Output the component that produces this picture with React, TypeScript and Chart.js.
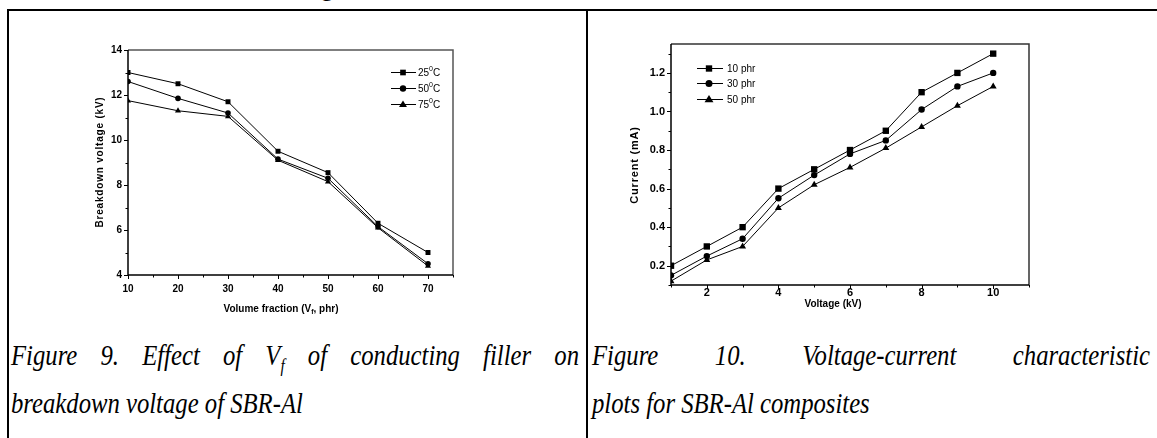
import React, { useEffect, useLayoutEffect, useRef, useState } from 'react';
import { Chart, registerables } from 'chart.js';

Chart.register(...registerables);

// ---------- Figure 9 data ----------
const volumeFraction = [10, 20, 30, 40, 50, 60, 70];
const breakdown25 = [13.0, 12.5, 11.7, 9.5, 8.55, 6.3, 5.0];
const breakdown50 = [12.6, 11.85, 11.2, 9.15, 8.3, 6.15, 4.5];
const breakdown75 = [11.75, 11.3, 11.05, 9.1, 8.15, 6.1, 4.4];
const tempNames = ['25', '50', '75'];
const fig9XTicks = [10, 20, 30, 40, 50, 60, 70];
const fig9XMinor = [15, 25, 35, 45, 55, 65, 75];
const fig9YTicks = [4, 6, 8, 10, 12, 14];
const fig9YMinor = [5, 7, 9, 11, 13];

// ---------- Figure 10 data ----------
const voltage = [1, 2, 3, 4, 5, 6, 7, 8, 9, 10];
const current10 = [0.2, 0.3, 0.4, 0.6, 0.7, 0.8, 0.9, 1.1, 1.2, 1.3];
const current30 = [0.15, 0.25, 0.34, 0.55, 0.67, 0.78, 0.85, 1.01, 1.13, 1.2];
const current50 = [0.12, 0.23, 0.3, 0.5, 0.62, 0.71, 0.81, 0.92, 1.03, 1.13];
const phrNames = ['10 phr', '30 phr', '50 phr'];
const fig10XTicks = [2, 4, 6, 8, 10];
const fig10XMinor = [1, 3, 5, 7, 9, 11];
const fig10YTicks = [0.2, 0.4, 0.6, 0.8, 1.0, 1.2];
const fig10YMinor = [0.1, 0.3, 0.5, 0.7, 0.9, 1.1, 1.3];

const markerStyles = ['rect', 'circle', 'triangle'];
const SANS = "'Liberation Sans', Arial, Helvetica, sans-serif";
const SERIF = "'Liberation Serif', 'Times New Roman', Times, serif";

type Spec = {
  width: number;
  height: number;
  padTop: number;
  padRight: number;
  yAxisWidth: number;
  xAxisHeight: number;
  xs: number[];
  series: number[][];
  names: string[];
  degree: boolean;
  radii: number[];
  xMin: number; xMax: number; yMin: number; yMax: number;
  xTicks: number[]; xMinor: number[]; yTicks: number[]; yMinor: number[];
  yDecimals: number;
  tickFont: number;
  xLabelPad: number;
  yLabelPad: number;
  majorLen: number;
  minorLen: number;
  frameColor: string;
  frameWidth: number;
  legend: { x0: number; x1: number; mx: number; tx: number; rows: number[]; font: number; marker: number[] };
  yTitle: { text: string; x: number; y: number; font: number; spacing: number };
  xTitle: { pre: string; sub: string; post: string; x: number; y: number; font: number };
};

function drawMarker(ctx: CanvasRenderingContext2D, style: string, x: number, y: number, r: number) {
  ctx.beginPath();
  if (style === 'rect') {
    const s = Math.SQRT1_2 * r;
    ctx.rect(x - s, y - s, 2 * s, 2 * s);
  } else if (style === 'circle') {
    ctx.arc(x, y, r, 0, Math.PI * 2);
  } else {
    const half = r * Math.sqrt(3) / 2;
    ctx.moveTo(x, y - r);
    ctx.lineTo(x + half * 1.15, y + r * 0.6);
    ctx.lineTo(x - half * 1.15, y + r * 0.6);
    ctx.closePath();
  }
  ctx.fill();
}

function makeDecor(s: Spec) {
  return {
    id: 'decor',
    afterDraw(chart: any) {
      const { ctx, chartArea: a, scales } = chart;
      const xs = scales.x;
      const ys = scales.y;
      ctx.save();
      // frame: top & right
      ctx.strokeStyle = s.frameColor;
      ctx.lineWidth = s.frameWidth;
      ctx.beginPath();
      ctx.moveTo(a.left, a.top);
      ctx.lineTo(a.right, a.top);
      ctx.lineTo(a.right, a.bottom);
      ctx.stroke();
      // axes
      ctx.strokeStyle = '#000';
      ctx.lineWidth = 1.5;
      ctx.beginPath();
      ctx.moveTo(a.left, a.top);
      ctx.lineTo(a.left, a.bottom);
      ctx.lineTo(a.right, a.bottom);
      ctx.stroke();
      // ticks
      ctx.lineWidth = 1;
      const tickX = (v: number, len: number) => {
        const p = Math.round(xs.getPixelForValue(v)) + 0.5;
        ctx.beginPath();
        ctx.moveTo(p, a.bottom);
        ctx.lineTo(p, a.bottom + len);
        ctx.stroke();
      };
      const tickY = (v: number, len: number) => {
        const p = Math.round(ys.getPixelForValue(v)) + 0.5;
        ctx.beginPath();
        ctx.moveTo(a.left, p);
        ctx.lineTo(a.left - len, p);
        ctx.stroke();
      };
      s.xTicks.forEach((v) => tickX(v, s.majorLen));
      s.xMinor.forEach((v) => tickX(v, s.minorLen));
      s.yTicks.forEach((v) => tickY(v, s.majorLen));
      s.yMinor.forEach((v) => tickY(v, s.minorLen));

      // legend
      const L = s.legend;
      ctx.fillStyle = '#000';
      s.names.forEach((name, i) => {
        const y = L.rows[i];
        ctx.strokeStyle = '#000';
        ctx.lineWidth = 1;
        ctx.beginPath();
        ctx.moveTo(L.x0, y + 0.5);
        ctx.lineTo(L.x1, y + 0.5);
        ctx.stroke();
        drawMarker(ctx, markerStyles[i], L.mx, y + 0.5, L.marker[i]);
        ctx.textBaseline = 'middle';
        ctx.textAlign = 'left';
        ctx.font = `${L.font}px ${SANS}`;
        if (s.degree) {
          let x = L.tx;
          ctx.fillText(name, x, y + 1);
          x += ctx.measureText(name).width;
          ctx.font = `${Math.round(L.font * 0.65)}px ${SANS}`;
          ctx.fillText('0', x, y - 2.5);
          x += ctx.measureText('0').width;
          ctx.font = `${L.font}px ${SANS}`;
          ctx.fillText('C', x, y + 1);
        } else {
          ctx.fillText(name, L.tx, y + 1);
        }
      });

      // y title
      const yt = s.yTitle;
      ctx.save();
      ctx.translate(yt.x, yt.y);
      ctx.rotate(-Math.PI / 2);
      ctx.font = `bold ${yt.font}px ${SANS}`;
      (ctx as any).letterSpacing = `${yt.spacing}px`;
      ctx.textAlign = 'center';
      ctx.textBaseline = 'middle';
      ctx.fillText(yt.text, 0, 0);
      ctx.restore();

      // x title (with optional subscript)
      const xt = s.xTitle;
      ctx.textBaseline = 'middle';
      ctx.textAlign = 'left';
      const big = `bold ${xt.font}px ${SANS}`;
      const small = `bold ${Math.round(xt.font * 0.65)}px ${SANS}`;
      ctx.font = big;
      const w1 = ctx.measureText(xt.pre).width;
      const w3 = xt.post ? ctx.measureText(xt.post).width : 0;
      ctx.font = small;
      const w2 = xt.sub ? ctx.measureText(xt.sub).width : 0;
      let x = xt.x - (w1 + w2 + w3) / 2;
      ctx.font = big;
      ctx.fillText(xt.pre, x, xt.y);
      x += w1;
      if (xt.sub) {
        ctx.font = small;
        ctx.fillText(xt.sub, x, xt.y + 3);
        x += w2;
      }
      if (xt.post) {
        ctx.font = big;
        ctx.fillText(xt.post, x, xt.y);
      }
      ctx.restore();
    },
  };
}

function buildConfig(s: Spec): any {
  const datasets = s.series.map((vals, i) => ({
    label: s.names[i],
    data: s.xs.map((x, j) => ({ x, y: vals[j] })),
    borderColor: '#000',
    backgroundColor: '#000',
    pointBackgroundColor: '#000',
    pointBorderColor: '#000',
    borderWidth: 1,
    pointBorderWidth: 0,
    pointStyle: markerStyles[i],
    pointRadius: s.radii[i],
    tension: 0,
  }));
  const tickFont = { family: SANS, size: s.tickFont, weight: 'bold' as const };
  return {
    type: 'line',
    data: { datasets },
    options: {
      animation: false,
      responsive: false,
      devicePixelRatio: 1,
      layout: { padding: { top: s.padTop, right: s.padRight, left: 0, bottom: 0 } },
      plugins: { legend: { display: false }, tooltip: { enabled: false }, title: { display: false } },
      scales: {
        x: {
          type: 'linear',
          min: s.xMin,
          max: s.xMax,
          afterBuildTicks: (sc: any) => {
            sc.ticks = s.xTicks.map((v) => ({ value: v }));
          },
          afterFit: (sc: any) => {
            sc.height = s.xAxisHeight;
          },
          grid: { display: false, drawTicks: false },
          border: { display: false },
          ticks: {
            color: '#000',
            font: tickFont,
            padding: s.xLabelPad,
            maxRotation: 0,
            autoSkip: false,
            callback: (v: any) => String(v),
          },
        },
        y: {
          type: 'linear',
          min: s.yMin,
          max: s.yMax,
          afterBuildTicks: (sc: any) => {
            sc.ticks = s.yTicks.map((v) => ({ value: v }));
          },
          afterFit: (sc: any) => {
            sc.width = s.yAxisWidth;
          },
          grid: { display: false, drawTicks: false },
          border: { display: false },
          ticks: {
            color: '#000',
            font: tickFont,
            padding: s.yLabelPad,
            autoSkip: false,
            callback: (v: any) => Number(v).toFixed(s.yDecimals),
          },
        },
      },
    },
    plugins: [makeDecor(s)],
  };
}

const fig9Spec: Spec = {
  width: 445,
  height: 290,
  padTop: 20,
  padRight: 12,
  yAxisWidth: 108,
  xAxisHeight: 45,
  xs: volumeFraction,
  series: [breakdown25, breakdown50, breakdown75],
  names: tempNames,
  degree: true,
  radii: [3.5, 2.8, 3.5],
  xMin: 10, xMax: 75, yMin: 4, yMax: 14,
  xTicks: fig9XTicks, xMinor: fig9XMinor, yTicks: fig9YTicks, yMinor: fig9YMinor,
  yDecimals: 0,
  tickFont: 10,
  xLabelPad: 8,
  yLabelPad: 6,
  majorLen: 4,
  minorLen: 2.5,
  frameColor: '#555',
  frameWidth: 1.5,
  legend: { x0: 371, x1: 396, mx: 383, tx: 398, rows: [42, 58, 74], font: 10, marker: [4, 3.2, 4] },
  yTitle: { text: 'Breakdown voltage (kV)', x: 80, y: 132, font: 10, spacing: 0.8 },
  xTitle: { pre: 'Volume fraction (V', sub: 'f', post: ', phr)', x: 261, y: 279, font: 10 },
};

const fig10Spec: Spec = {
  width: 450,
  height: 300,
  padTop: 19,
  padRight: 11,
  yAxisWidth: 81,
  xAxisHeight: 40,
  xs: voltage,
  series: [current10, current30, current50],
  names: phrNames,
  degree: false,
  radii: [4.5, 3.2, 4],
  xMin: 1, xMax: 11, yMin: 0.1, yMax: 1.35,
  xTicks: fig10XTicks, xMinor: fig10XMinor, yTicks: fig10YTicks, yMinor: fig10YMinor,
  yDecimals: 1,
  tickFont: 11,
  xLabelPad: 1,
  yLabelPad: 6,
  majorLen: 4,
  minorLen: 2.5,
  frameColor: '#333',
  frameWidth: 1.5,
  legend: { x0: 107, x1: 133, mx: 119, tx: 137, rows: [43, 58, 74], font: 10, marker: [4.5, 3.5, 4.5] },
  yTitle: { text: 'Current (mA)', x: 45, y: 140, font: 11, spacing: 0.8 },
  xTitle: { pre: 'Voltage (kV)', sub: '', post: '', x: 243, y: 279, font: 10 },
};

function ChartBox({ spec, left, top }: { spec: Spec; left: number; top: number }) {
  const ref = useRef<HTMLCanvasElement>(null);
  useEffect(() => {
    if (!ref.current) return;
    const chart = new Chart(ref.current, buildConfig(spec));
    return () => chart.destroy();
  }, [spec]);
  return (
    <div style={{ position: 'absolute', left, top, width: spec.width, height: spec.height }}>
      <canvas ref={ref} width={spec.width} height={spec.height} style={{ display: 'block', width: spec.width, height: spec.height }} />
    </div>
  );
}

const CAPTION_TARGET_WIDTH = 292; // width of "breakdown voltage of SBR-Al" in the reference

export default function App() {
  const measureRef = useRef<HTMLSpanElement>(null);
  const [capSize, setCapSize] = useState(24);
  useLayoutEffect(() => {
    const el = measureRef.current;
    if (!el) return;
    const w = el.getBoundingClientRect().width;
    if (w > 0) setCapSize((24 * CAPTION_TARGET_WIDTH) / w);
  }, []);

  const captionFont: React.CSSProperties = {
    position: 'absolute',
    fontFamily: SERIF,
    fontStyle: 'italic',
    fontSize: capSize,
    lineHeight: '48px',
    height: 48,
    color: '#000',
    whiteSpace: 'nowrap',
    transform: 'scaleY(1.22)',
    transformOrigin: '50% 50%',
  };

  return (
    <div style={{ position: 'fixed', left: 0, top: 0, width: 1157, height: 438, overflow: 'hidden', background: '#fff' }}>
      <span
        ref={measureRef}
        aria-hidden="true"
        style={{ position: 'absolute', left: 0, top: -200, fontFamily: SERIF, fontStyle: 'italic', fontSize: 24, whiteSpace: 'nowrap', visibility: 'hidden' }}
      >
        breakdown voltage of SBR-Al
      </span>
      <div style={{ position: 'absolute', left: 321, top: -24, fontFamily: SERIF, fontSize: 24, lineHeight: '24px' }}>g</div>
      {/* table lines */}
      <div style={{ position: 'absolute', left: 7, top: 9, width: 1150, height: 2, background: '#000' }} />
      <div style={{ position: 'absolute', left: 7, top: 9, width: 2, height: 429, background: '#000' }} />
      <div style={{ position: 'absolute', left: 586, top: 9, width: 2, height: 429, background: '#000' }} />

      <ChartBox spec={fig9Spec} left={20} top={30} />
      <ChartBox spec={fig10Spec} left={590} top={25} />

      <div style={{ ...captionFont, left: 11, top: 331, width: 568, textAlign: 'justify', textAlignLast: 'justify' as any, whiteSpace: 'normal' }}>
        Figure 9. Effect of V<sub style={{ fontSize: '0.62em', lineHeight: 0 }}>f</sub> of conducting filler on
      </div>
      <div style={{ ...captionFont, left: 11, top: 379 }}>breakdown voltage of SBR-Al</div>
      <div style={{ ...captionFont, left: 592, top: 331, width: 558, textAlign: 'justify', textAlignLast: 'justify' as any, whiteSpace: 'normal' }}>
        Figure 10. Voltage-current characteristic
      </div>
      <div style={{ ...captionFont, left: 592, top: 379 }}>plots for SBR-Al composites</div>
    </div>
  );
}
